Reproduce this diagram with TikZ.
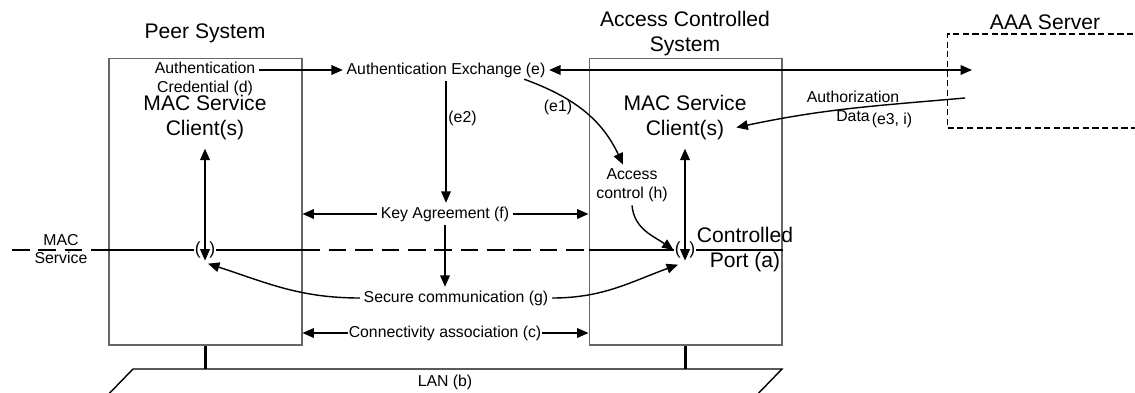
\documentclass[tikz,border=0pt]{standalone}
\usepackage{fontspec}
\setmainfont{Liberation Sans}
\usepackage{tikz}
\usetikzlibrary{positioning,arrows.meta,calc}

\begin{document}
\begin{tikzpicture}[x=0.02cm, y=0.02cm,
    every node/.style={inner sep=2pt},
    bigtxt/.style={font=\fontsize{12}{14.2}\selectfont, align=center},
    smalltxt/.style={font=\fontsize{9}{10.8}\selectfont, align=center},
    sysbox/.style={draw=black!60, line width=0.6pt, minimum width=3.86cm, minimum height=5.74cm},
    aaabox/.style={draw, line width=0.75pt, dash pattern=on 3.5pt off 2pt, minimum width=4.3cm, minimum height=1.88cm},
    port/.style={font=\fontsize{10}{10}\selectfont, inner xsep=0.5pt, inner ysep=1.2pt},
    arr/.style={-{Triangle[length=6.5pt,width=5.5pt]}, line width=0.8pt},
    dblarr/.style={{Triangle[length=6.5pt,width=5.5pt]}-{Triangle[length=6.5pt,width=5.5pt]}, line width=0.8pt},
    macline/.style={line width=0.8pt},
    macdash/.style={line width=1.2pt, dash pattern=on 10pt off 5pt},
    lanline/.style={line width=0.8pt},
    stem/.style={line width=1.5pt}]
  \useasboundingbox (0,0) rectangle (1135,-392);

  % Sistemi
  \node (peer) at (205.5,-201.5) [sysbox] {};
  \node (acs) at (685.5,-201.5) [sysbox] {};
  \node (aaa) at (1055,-81) [aaabox] {};
  \node (peertitle) at (205,-33) [bigtxt] {Peer System};
  \node (acstitle) at (685,-33.5) [bigtxt] {Access Controlled\\System};
  \node (aaatitle) at (1045,-22) [bigtxt] {AAA Server};

  % Testi
  \node (cred) at (205,-78.5) [smalltxt] {Authentication\\Credential (d)};
  \node (clientL) at (205,-117.5) [bigtxt] {MAC Service\\Client(s)};
  \node (clientR) at (685,-117.5) [bigtxt] {MAC Service\\Client(s)};
  \node (authex) at (446,-70) [smalltxt] {Authentication Exchange (e)};
  \node (e2lbl) at (462.5,-118) [smalltxt] {(e2)};
  \node (e1lbl) at (558,-107) [smalltxt] {(e1)};
  \node (accctl) at (632,-185) [smalltxt] {Access\\control (h)};
  \node (authdata) at (853,-106) [smalltxt] {Authorization\\Data};
  \node (e3lbl) at (892,-120) [smalltxt] {(e3, i)};
  \node (keyag) at (445,-214) [smalltxt] {Key Agreement (f)};
  \node (secure) at (456,-298) [smalltxt] {Secure communication (g)};
  \node (connassoc) at (445,-333) [smalltxt, inner sep=0pt] {Connectivity association (c)};
  \node (lanlbl) at (445,-382) [smalltxt] {LAN (b)};
  \node (maclbl) at (61,-249) [font=\fontsize{9}{10.2}\selectfont, align=center] {MAC\\Service};
  \node (ctrlport) at (745,-249.5) [bigtxt] {Controlled\\Port (a)};

  % Porte
  \node (portL) at (205,-250) [port] {(\hspace{5pt})};
  \node (portR) at (685,-250) [port] {(\hspace{5pt})};

  \coordinate (aaain) at (972,-70);
  \coordinate (aaaout) at (965,-98);
  \coordinate (macstart) at (12,-250);
  \coordinate (lanL) at (133,-369);
  \coordinate (lanR) at (782,-369);

  % Collegamenti
  \draw[arr] (cred.east |- authex) -- (authex.west);
  \draw[dblarr] (authex.east) -- (aaain);
  \draw[arr] (authex.south) -- (authex.south |- keyag.north);
  \draw[arr] ($(authex.south east)+(-25,2)$) to[out=-20, in=115] ($(accctl.north)+(-9,0)$);
  \draw[arr] (accctl.south) to[out=-85, in=145] (portR.west);
  \draw[arr] (aaaout) to[out=185, in=12] ($(clientR.east)+(-14,-10)$);
  \draw[dblarr] ($(clientL.south)+(0,-5)$) -- (portL.south);
  \draw[dblarr] ($(clientR.south)+(0,-5)$) -- (portR.south);

  \draw[arr] (keyag.west) -- (peer.east |- keyag);
  \draw[arr] (keyag.east) -- (acs.west |- keyag);
  \draw[arr] (keyag.south) -- (keyag.south |- secure.north);

  \draw[arr] (secure.west) to[out=180, in=-18] ($(portL.south)+(3,-3)$);
  \draw[arr] (secure.east) to[out=0, in=-160] ($(portR.south)+(-7,-4)$);

  \draw[arr] (connassoc.west) -- (peer.east |- connassoc);
  \draw[arr] (connassoc.east) -- (acs.west |- connassoc);

  % Linea MAC Service
  \draw[macdash] (macstart) -- (peer.west |- portL);
  \draw[macline] (peer.west |- portL) -- (portL.west);
  \draw[macline] (portL.east) -- (peer.east |- portL);
  \draw[macdash] (peer.east |- portL) -- (acs.west |- portR);
  \draw[macline] (acs.west |- portR) -- (portR.west);
  \draw[macline] (portR.east) -- (acs.east |- portR);

  % LAN
  \draw[lanline] ($(lanL)+(-32,-33)$) -- (lanL) -- (lanR) -- ($(lanR)+(-32,-33)$);
  \draw[stem] (peer.south) -- (peer.south |- lanL);
  \draw[stem] (acs.south) -- (acs.south |- lanL);
\end{tikzpicture}
\end{document}
